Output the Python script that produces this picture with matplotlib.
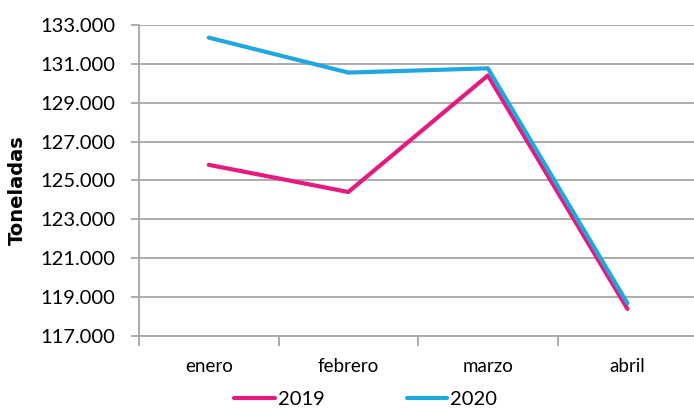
import matplotlib
matplotlib.use("Agg")
import matplotlib.pyplot as plt
from matplotlib.ticker import FuncFormatter, FixedLocator

meses = ["enero", "febrero", "marzo", "abril"]
serie_2019 = [125800, 124400, 130400, 118380]
serie_2020 = [132350, 130550, 130770, 118670]
yticks = list(range(117000, 133001, 2000))

plt.rcParams['font.family'] = ['Lato', 'DejaVu Sans']

fig = plt.figure(figsize=(6.94, 4.12), dpi=100)
ax = fig.add_axes([0.2003, 0.1852, 0.7997, 0.7541])

x = list(range(len(meses)))
ax.plot(x, serie_2019, color="#E6197F", lw=3.0, label="2019", solid_capstyle="round", zorder=3)
ax.plot(x, serie_2020, color="#1FA8E0", lw=3.0, label="2020", solid_capstyle="round", zorder=3)

ax.set_xlim(-0.5, 3.477)
ax.set_ylim(117000, 133000)
ax.set_yticks(yticks)
ax.yaxis.set_major_formatter(FuncFormatter(lambda v, p: f"{int(v):,}".replace(",", ".")))
ax.yaxis.grid(True, color="#A6A6A6", lw=1.3)
ax.set_axisbelow(True)

ax.set_xticks(x)
ax.set_xticklabels(meses, fontsize=13.5)
ax.xaxis.set_minor_locator(FixedLocator([-0.5, 0.5, 1.5, 2.5]))
ax.tick_params(axis="x", which="major", length=0, pad=16)
ax.tick_params(axis="x", which="minor", length=7, color="#A6A6A6", width=1.3, direction="out")
ax.tick_params(axis="y", length=6, color="#A6A6A6", width=1.3, labelsize=14.5, pad=11)

for s in ["top", "right"]:
    ax.spines[s].set_visible(False)
for s in ["left", "bottom"]:
    ax.spines[s].set_color("#A6A6A6")
    ax.spines[s].set_linewidth(1.3)

fig.text(0.0245, 0.539, "Toneladas", rotation=90, fontsize=14, fontweight="bold",
         family=["DejaVu Sans"], ha="center", va="center")

fig.legend(loc="center", bbox_to_anchor=(0.527, 0.03), ncol=2, frameon=False,
           fontsize=14.5, handlelength=2.0, handletextpad=0.15, columnspacing=4.1,
           borderpad=0)

fig.savefig("out.png", dpi=100)
